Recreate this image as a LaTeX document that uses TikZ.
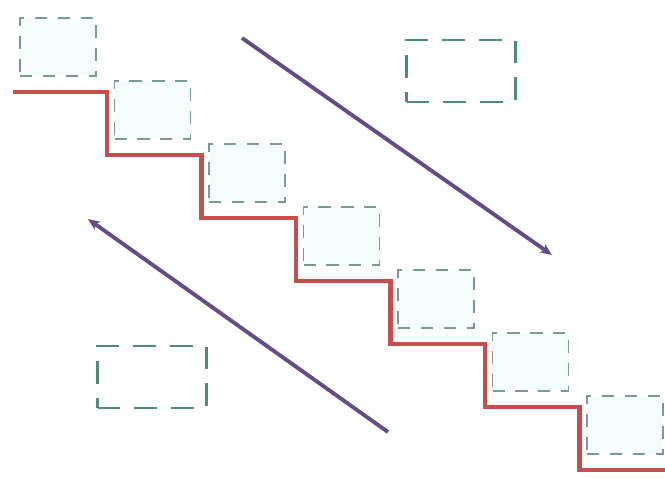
\documentclass[tikz,border=0pt]{standalone}
\usepackage{tikz}
\usetikzlibrary{arrows.meta,positioning}
\definecolor{stairred}{RGB}{200,78,78}
\definecolor{arrowpurple}{RGB}{100,76,132}
\definecolor{boxline}{RGB}{122,152,148}
\definecolor{boxfill}{RGB}{245,253,252}
\definecolor{bigline}{RGB}{78,138,118}

\begin{document}
\begin{tikzpicture}[
  x=0.02cm, y=-0.02cm,
  stepbox/.style={draw=boxline, fill=boxfill, line width=1.1pt, dash pattern=on 7pt off 6pt, minimum width=1.52cm, minimum height=1.16cm, inner sep=0pt},
  bigbox/.style={draw=bigline, line width=1.5pt, dash pattern=on 13pt off 8pt, minimum width=2.18cm, minimum height=1.24cm, inner sep=0pt},
  stair/.style={draw=stairred, line width=2.8pt, line join=miter},
  arr/.style={-{Stealth[length=2.4mm, width=2mm]}, draw=arrowpurple, line width=2.2pt}]
\useasboundingbox (0,0) rectangle (665,477);
% boxes on the steps
\foreach \k in {0,...,6}
  \node[stepbox] (b\k) at ({58+94.5*\k},{47+63*\k}) {};
% staircase
\draw[stair] (13,92)
  \foreach \k in {0,...,5} { -| ({107+94.5*\k},{92+63*(\k+1)}) } -- (665,470);
% loose boxes
\node[bigbox] (upper) at (461,71) {};
\node[bigbox] (lower) at (152,377) {};
% arrows
\coordinate (downA) at (242,38);
\coordinate (downB) at (552,255);
\coordinate (upA) at (388,432);
\coordinate (upB) at (88,219);
\draw[arr] (downA) -- (downB);
\draw[arr] (upA) -- (upB);
\end{tikzpicture}
\end{document}
